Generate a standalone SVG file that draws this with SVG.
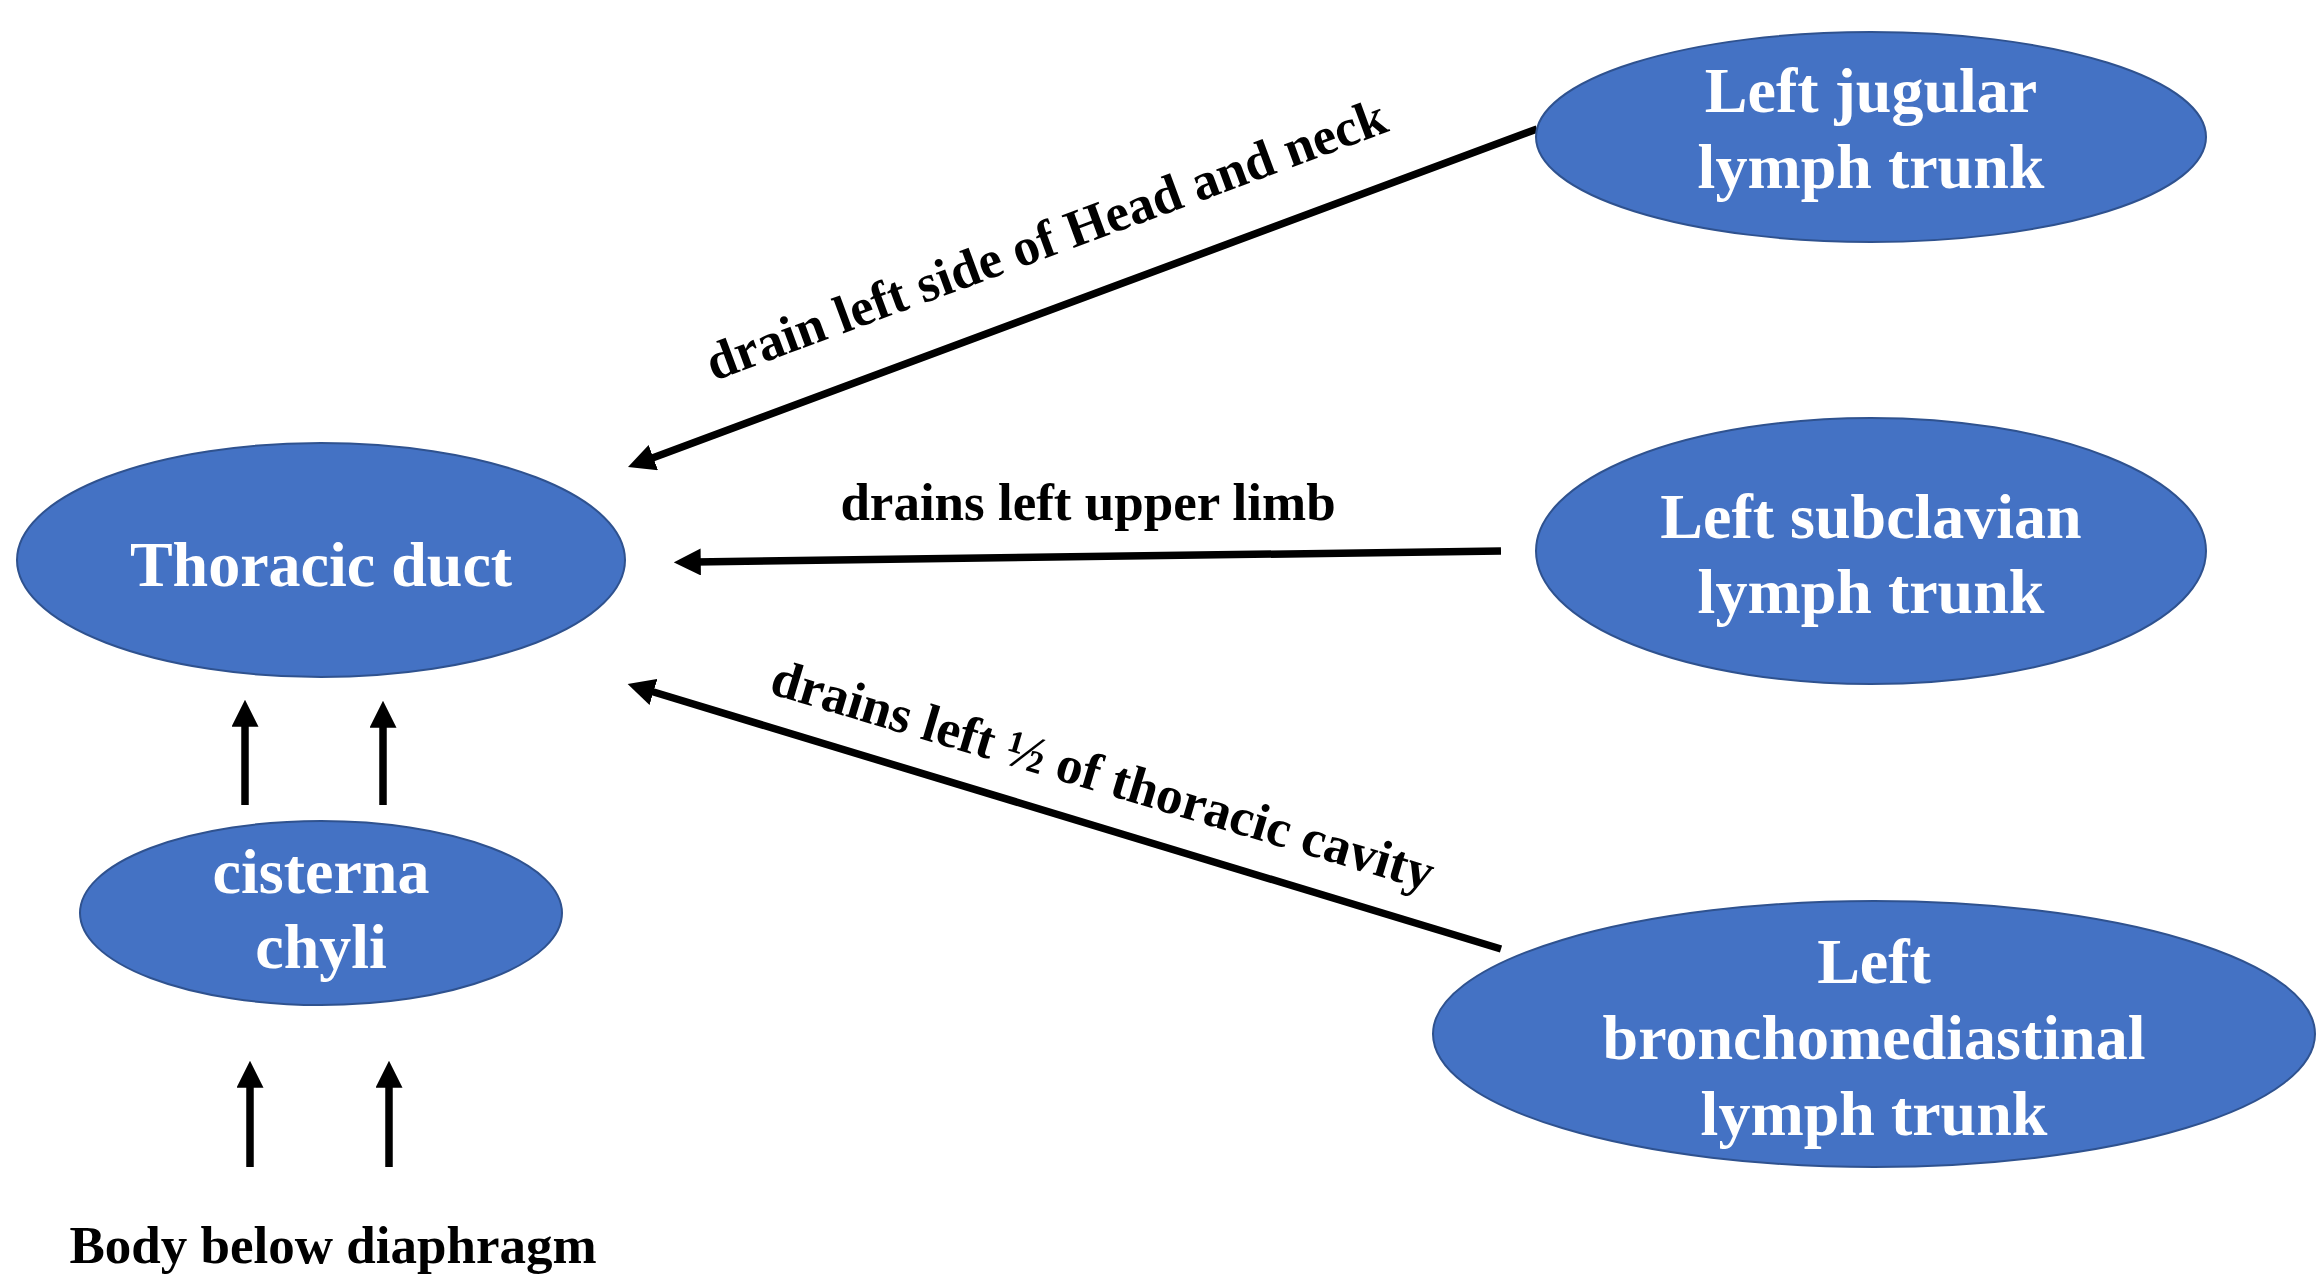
<svg xmlns="http://www.w3.org/2000/svg" width="2317" height="1283" viewBox="0 0 2317 1283">
<defs>
<marker id="ah" viewBox="0 0 24 24" markerUnits="userSpaceOnUse" markerWidth="27" markerHeight="27" refX="6" refY="12" orient="auto">
<path d="M0,0 L24,12 L0,24 z" fill="#000"/>
</marker>
</defs>
<style>
.node{fill:#4472C4;stroke:#2F528F;stroke-width:2}
.nt{font-family:"Liberation Serif","Times New Roman",serif;font-weight:bold;font-size:64px;fill:#fff;text-anchor:middle}
.lbl{font-family:"Liberation Serif","Times New Roman",serif;font-weight:bold;font-size:53px;fill:#000;text-anchor:middle}
.edge{stroke:#000;stroke-width:7.5;fill:none;marker-end:url(#ah)}
</style>
<rect width="2317" height="1283" fill="#fff"/>
<g id="connectors">
<line class="edge" x1="1537" y1="129" x2="647" y2="460"/>
<line class="edge" x1="1501" y1="551" x2="694" y2="562"/>
<line class="edge" x1="1501" y1="949" x2="647" y2="690"/>
<line class="edge" x1="245" y1="805" x2="245" y2="720"/>
<line class="edge" x1="383" y1="805" x2="383" y2="721"/>
<line class="edge" x1="250" y1="1167" x2="250" y2="1081"/>
<line class="edge" x1="389" y1="1167" x2="389" y2="1081"/>
<text class="lbl" transform="translate(1052,256) rotate(-20.3)">drain left side of Head and neck</text>
<text class="lbl" x="1088" y="520">drains left upper limb</text>
<text class="lbl" transform="translate(1098,792) rotate(16.7)">drains left ½ of thoracic cavity</text>
</g>
<g id="thoracic-duct">
<ellipse class="node" cx="321" cy="560" rx="304" ry="117"/>
<text class="nt" x="321" y="586">Thoracic duct</text>
</g>
<g id="cisterna-chyli">
<ellipse class="node" cx="321" cy="913" rx="241" ry="92"/>
<text class="nt" x="321" y="893">cisterna</text>
<text class="nt" x="321" y="968">chyli</text>
</g>
<g id="left-jugular">
<ellipse class="node" cx="1871" cy="137" rx="335" ry="105"/>
<text class="nt" x="1871" y="112">Left jugular</text>
<text class="nt" x="1871" y="188">lymph trunk</text>
</g>
<g id="left-subclavian">
<ellipse class="node" cx="1871" cy="551" rx="335" ry="133"/>
<text class="nt" x="1871" y="538">Left subclavian</text>
<text class="nt" x="1871" y="613">lymph trunk</text>
</g>
<g id="left-bronchomediastinal">
<ellipse class="node" cx="1874" cy="1034" rx="441" ry="133"/>
<text class="nt" x="1874" y="983">Left</text>
<text class="nt" x="1874" y="1059">bronchomediastinal</text>
<text class="nt" x="1874" y="1135">lymph trunk</text>
</g>
<g id="body-below-diaphragm">
<text class="lbl" x="333" y="1263">Body below diaphragm</text>
</g>
</svg>
